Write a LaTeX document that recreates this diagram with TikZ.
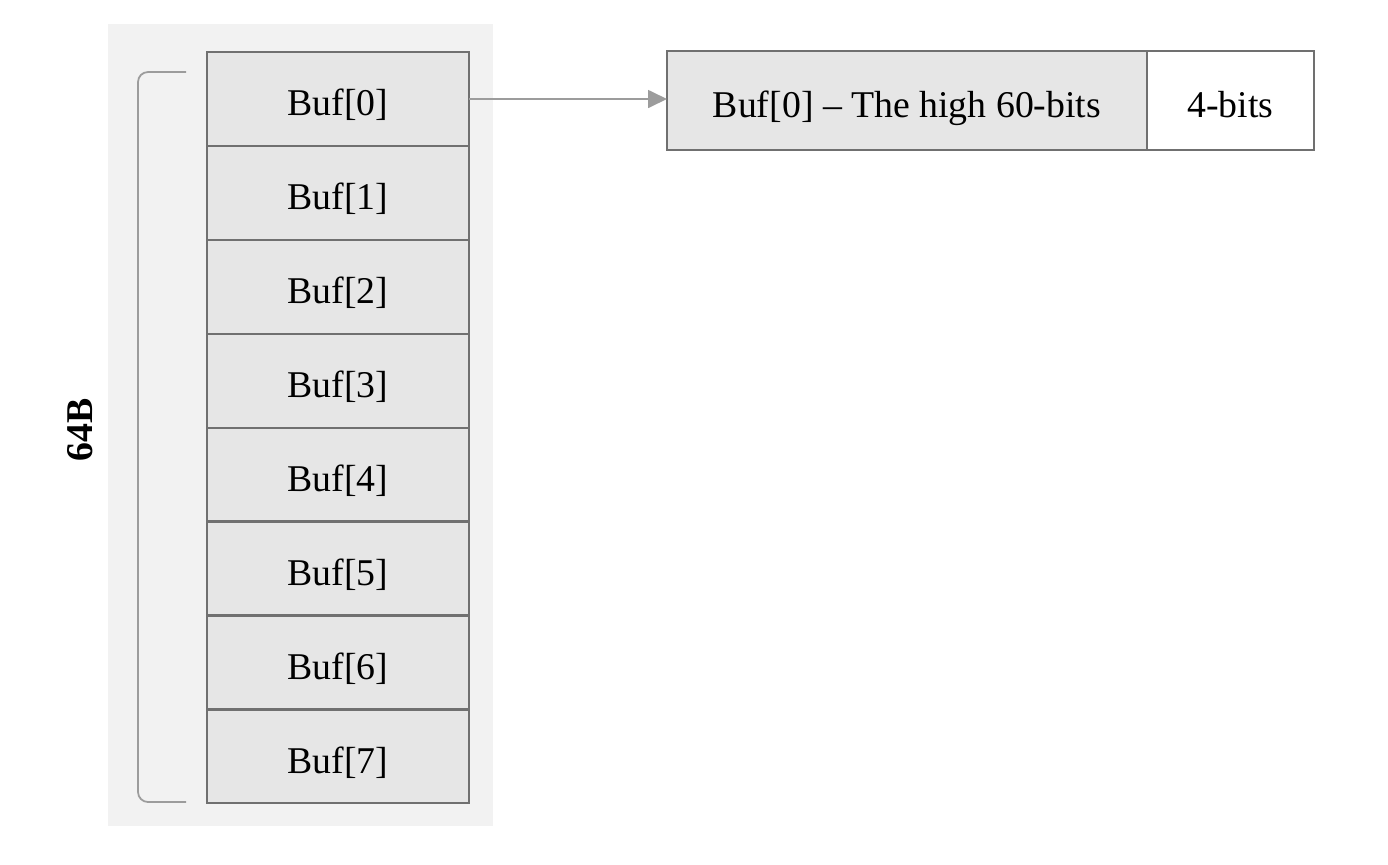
\documentclass[tikz,border=0pt]{standalone}
\usepackage{fontspec}
\setmainfont{Liberation Serif}
\usetikzlibrary{positioning,arrows.meta}
\definecolor{panelgray}{HTML}{F2F2F2}
\definecolor{cellgray}{HTML}{E6E6E6}
\definecolor{edgegray}{HTML}{707070}
\definecolor{linegray}{HTML}{9C9C9C}
\begin{document}
\begin{tikzpicture}
      \tikzset{
        node distance=0pt,
        every node/.style={font=\fontsize{21.5}{24}\selectfont},
        cell/.style={rectangle,draw=edgegray,fill=cellgray,line width=1.3pt,outer sep=0pt,
                     minimum width=5.24cm,minimum height=1.878cm,inner sep=0pt,
                     text height=20pt,text depth=1pt},
        part/.style={cell,minimum height=1.98cm},
        link/.style={draw=linegray,line width=1pt,-{Triangle[length=0.38cm,width=0.36cm]}}
      }
      \useasboundingbox (0,0) rectangle (27.76,-17.28);
      \fill[panelgray] (2.16,-0.48) rectangle (9.86,-16.52);

      \node[cell] at (6.76,-1.98) (b0) {Buf[0]};
      \node[cell, below=of b0] (b1) {Buf[1]};
      \node[cell, below=of b1] (b2) {Buf[2]};
      \node[cell, below=of b2] (b3) {Buf[3]};
      \node[cell, below=of b3] (b4) {Buf[4]};
      \node[cell, below=of b4] (b5) {Buf[5]};
      \node[cell, below=of b5] (b6) {Buf[6]};
      \node[cell, below=of b6] (b7) {Buf[7]};

      \node[part, right=3.96cm of b0, yshift=-0.03cm, minimum width=9.6cm] (hi) {Buf[0] -- The high 60-bits};
      \node[part, right=of hi, fill=white, minimum width=3.34cm] (lo) {4-bits};

      \draw[link] (b0.east) -- (b0.east -| hi.west);

      % bracket for the whole buffer
      \coordinate (top) at (3.72,-1.44);
      \coordinate (bot) at (3.72,-16.04);
      \draw[linegray,line width=1pt,rounded corners=0.2cm]
            (top) -- (2.76,-1.44) -- (2.76,-16.04) -- (bot);
      \node[rotate=90,font=\fontsize{21.5}{24}\selectfont\bfseries] (size) at (1.6,-8.6) {64B};
    \end{tikzpicture}
\end{document}
